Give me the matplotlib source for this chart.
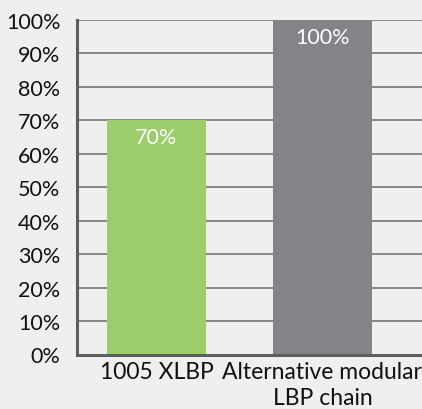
import matplotlib
matplotlib.use("Agg")
import matplotlib.pyplot as plt
from matplotlib.ticker import FuncFormatter

categories = ["1005 XLBP", "Alternative modular\nLBP chain"]
values = [70, 100]
bar_labels = ["70%", "100%"]
colors = ["#9ccd6b", "#848388"]
yticks = list(range(0, 101, 10))

plt.rcParams['font.family'] = ['Lato', 'DejaVu Sans']

fig = plt.figure(figsize=(4.22, 4.10), dpi=100)
fig.patch.set_facecolor("#eeefef")
ax = fig.add_axes([77 / 422, 1 - 355.5 / 410, 345 / 422, (355.5 - 21) / 410])
ax.set_facecolor("#eeefef")

bars = ax.bar(range(len(categories)), values, width=0.596, color=colors, zorder=3)

for b, lab in zip(bars, bar_labels):
    ax.annotate(lab, (b.get_x() + b.get_width() / 2, b.get_height()),
                xytext=(0, -5), textcoords="offset points", ha="center", va="top",
                color="white", fontsize=15.5, zorder=4)

ax.set_xlim(-0.479, 1.6)
ax.set_ylim(0, 100)
ax.set_yticks(yticks)
ax.yaxis.set_major_formatter(FuncFormatter(lambda v, p: "%d%%" % v))
ax.set_xticks(range(len(categories)))
ax.set_xticklabels(categories, linespacing=1.25, fontsize=16.5)

ax.grid(axis="y", color="#6a6a6a", linewidth=1.1, zorder=1)
ax.tick_params(axis="both", length=0, labelsize=15.5, colors="#111111")
ax.tick_params(axis="x", labelsize=16.5, pad=5)
ax.tick_params(axis="y", pad=12)

for s in ["top", "right"]:
    ax.spines[s].set_visible(False)
ax.spines["left"].set_color("#5e5e5e")
ax.spines["left"].set_linewidth(2.2)
ax.spines["bottom"].set_color("#5e5e5e")
ax.spines["bottom"].set_linewidth(2.2)
ax.spines["left"].set_zorder(5)
ax.spines["bottom"].set_zorder(5)

fig.savefig("out.png", dpi=100, facecolor=fig.get_facecolor())
